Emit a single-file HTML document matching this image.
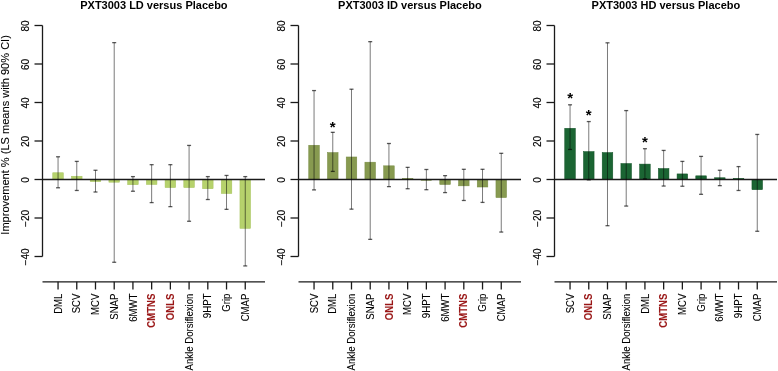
<!DOCTYPE html>
<html><head><meta charset="utf-8"><style>
html,body{margin:0;padding:0;background:#fff;}
svg{display:block;will-change:transform;}
text{font-family:"Liberation Sans", sans-serif;stroke-linejoin:round;}
</style></head><body>
<svg width="778" height="371" viewBox="0 0 778 371">
<rect width="778" height="371" fill="#fff"/>
<g><text x="153.90" y="8.7" text-anchor="middle" font-weight="bold" font-size="11">PXT3003 LD versus Placebo</text><rect x="52.75" y="172.76" width="10.60" height="6.74" fill="#b6d26c" stroke="#a6c25c" stroke-width="0.5"/><rect x="71.47" y="176.23" width="10.60" height="3.27" fill="#b6d26c" stroke="#a6c25c" stroke-width="0.5"/><rect x="90.19" y="179.50" width="10.60" height="2.12" fill="#b6d26c" stroke="#a6c25c" stroke-width="0.5"/><rect x="108.91" y="179.50" width="10.60" height="2.69" fill="#b6d26c" stroke="#a6c25c" stroke-width="0.5"/><rect x="127.63" y="179.50" width="10.60" height="5.20" fill="#b6d26c" stroke="#a6c25c" stroke-width="0.5"/><rect x="146.35" y="179.50" width="10.60" height="5.00" fill="#b6d26c" stroke="#a6c25c" stroke-width="0.5"/><rect x="165.07" y="179.50" width="10.60" height="8.09" fill="#b6d26c" stroke="#a6c25c" stroke-width="0.5"/><rect x="183.79" y="179.50" width="10.60" height="8.09" fill="#b6d26c" stroke="#a6c25c" stroke-width="0.5"/><rect x="202.51" y="179.50" width="10.60" height="9.24" fill="#b6d26c" stroke="#a6c25c" stroke-width="0.5"/><rect x="221.23" y="179.50" width="10.60" height="14.05" fill="#b6d26c" stroke="#a6c25c" stroke-width="0.5"/><rect x="239.95" y="179.50" width="10.60" height="48.89" fill="#b6d26c" stroke="#a6c25c" stroke-width="0.5"/><line x1="42.50" y1="179.5" x2="265.00" y2="179.5" stroke="#1a1a1a" stroke-width="1.3"/><line x1="58.05" y1="156.78" x2="58.05" y2="187.78" stroke="#000" stroke-opacity="0.62" stroke-width="0.85"/><line x1="56.05" y1="156.78" x2="60.05" y2="156.78" stroke="#000" stroke-opacity="0.65" stroke-width="1.3"/><line x1="56.05" y1="187.78" x2="60.05" y2="187.78" stroke="#000" stroke-opacity="0.65" stroke-width="1.3"/><line x1="76.77" y1="161.41" x2="76.77" y2="190.47" stroke="#000" stroke-opacity="0.62" stroke-width="0.85"/><line x1="74.77" y1="161.41" x2="78.77" y2="161.41" stroke="#000" stroke-opacity="0.65" stroke-width="1.3"/><line x1="74.77" y1="190.47" x2="78.77" y2="190.47" stroke="#000" stroke-opacity="0.65" stroke-width="1.3"/><line x1="95.49" y1="170.26" x2="95.49" y2="192.01" stroke="#000" stroke-opacity="0.62" stroke-width="0.85"/><line x1="93.49" y1="170.26" x2="97.49" y2="170.26" stroke="#000" stroke-opacity="0.65" stroke-width="1.3"/><line x1="93.49" y1="192.01" x2="97.49" y2="192.01" stroke="#000" stroke-opacity="0.65" stroke-width="1.3"/><line x1="114.21" y1="42.63" x2="114.21" y2="262.27" stroke="#000" stroke-opacity="0.62" stroke-width="0.85"/><line x1="112.21" y1="42.63" x2="116.21" y2="42.63" stroke="#000" stroke-opacity="0.65" stroke-width="1.3"/><line x1="112.21" y1="262.27" x2="116.21" y2="262.27" stroke="#000" stroke-opacity="0.65" stroke-width="1.3"/><line x1="132.93" y1="176.61" x2="132.93" y2="191.24" stroke="#000" stroke-opacity="0.62" stroke-width="0.85"/><line x1="130.93" y1="176.61" x2="134.93" y2="176.61" stroke="#000" stroke-opacity="0.65" stroke-width="1.3"/><line x1="130.93" y1="191.24" x2="134.93" y2="191.24" stroke="#000" stroke-opacity="0.65" stroke-width="1.3"/><line x1="151.65" y1="164.68" x2="151.65" y2="202.60" stroke="#000" stroke-opacity="0.62" stroke-width="0.85"/><line x1="149.65" y1="164.68" x2="153.65" y2="164.68" stroke="#000" stroke-opacity="0.65" stroke-width="1.3"/><line x1="149.65" y1="202.60" x2="153.65" y2="202.60" stroke="#000" stroke-opacity="0.65" stroke-width="1.3"/><line x1="170.37" y1="164.68" x2="170.37" y2="206.64" stroke="#000" stroke-opacity="0.62" stroke-width="0.85"/><line x1="168.37" y1="164.68" x2="172.37" y2="164.68" stroke="#000" stroke-opacity="0.65" stroke-width="1.3"/><line x1="168.37" y1="206.64" x2="172.37" y2="206.64" stroke="#000" stroke-opacity="0.65" stroke-width="1.3"/><line x1="189.09" y1="145.43" x2="189.09" y2="221.27" stroke="#000" stroke-opacity="0.62" stroke-width="0.85"/><line x1="187.09" y1="145.43" x2="191.09" y2="145.43" stroke="#000" stroke-opacity="0.65" stroke-width="1.3"/><line x1="187.09" y1="221.27" x2="191.09" y2="221.27" stroke="#000" stroke-opacity="0.65" stroke-width="1.3"/><line x1="207.81" y1="176.61" x2="207.81" y2="199.52" stroke="#000" stroke-opacity="0.62" stroke-width="0.85"/><line x1="205.81" y1="176.61" x2="209.81" y2="176.61" stroke="#000" stroke-opacity="0.65" stroke-width="1.3"/><line x1="205.81" y1="199.52" x2="209.81" y2="199.52" stroke="#000" stroke-opacity="0.65" stroke-width="1.3"/><line x1="226.53" y1="175.46" x2="226.53" y2="209.34" stroke="#000" stroke-opacity="0.62" stroke-width="0.85"/><line x1="224.53" y1="175.46" x2="228.53" y2="175.46" stroke="#000" stroke-opacity="0.65" stroke-width="1.3"/><line x1="224.53" y1="209.34" x2="228.53" y2="209.34" stroke="#000" stroke-opacity="0.65" stroke-width="1.3"/><line x1="245.25" y1="176.61" x2="245.25" y2="265.93" stroke="#000" stroke-opacity="0.62" stroke-width="0.85"/><line x1="243.25" y1="176.61" x2="247.25" y2="176.61" stroke="#000" stroke-opacity="0.65" stroke-width="1.3"/><line x1="243.25" y1="265.93" x2="247.25" y2="265.93" stroke="#000" stroke-opacity="0.65" stroke-width="1.3"/><line x1="42.5" y1="25.5" x2="42.5" y2="256.5" stroke="#1a1a1a" stroke-width="1.3"/><line x1="34.5" y1="25.5" x2="42.5" y2="25.5" stroke="#1a1a1a" stroke-width="1.3"/><text transform="translate(28.80,25.90) rotate(-90)" text-anchor="middle" font-size="10" stroke="#000" stroke-width="0.15">80</text><line x1="34.5" y1="64.0" x2="42.5" y2="64.0" stroke="#1a1a1a" stroke-width="1.3"/><text transform="translate(28.80,64.40) rotate(-90)" text-anchor="middle" font-size="10" stroke="#000" stroke-width="0.15">60</text><line x1="34.5" y1="102.5" x2="42.5" y2="102.5" stroke="#1a1a1a" stroke-width="1.3"/><text transform="translate(28.80,102.90) rotate(-90)" text-anchor="middle" font-size="10" stroke="#000" stroke-width="0.15">40</text><line x1="34.5" y1="141.0" x2="42.5" y2="141.0" stroke="#1a1a1a" stroke-width="1.3"/><text transform="translate(28.80,141.40) rotate(-90)" text-anchor="middle" font-size="10" stroke="#000" stroke-width="0.15">20</text><line x1="34.5" y1="179.5" x2="42.5" y2="179.5" stroke="#1a1a1a" stroke-width="1.3"/><text transform="translate(28.80,179.90) rotate(-90)" text-anchor="middle" font-size="10" stroke="#000" stroke-width="0.15">0</text><line x1="34.5" y1="218.0" x2="42.5" y2="218.0" stroke="#1a1a1a" stroke-width="1.3"/><text transform="translate(28.80,218.40) rotate(-90)" text-anchor="middle" font-size="10" stroke="#000" stroke-width="0.15">−20</text><line x1="34.5" y1="256.5" x2="42.5" y2="256.5" stroke="#1a1a1a" stroke-width="1.3"/><text transform="translate(28.80,256.90) rotate(-90)" text-anchor="middle" font-size="10" stroke="#000" stroke-width="0.15">−40</text><line x1="42.5" y1="281.8" x2="265" y2="281.8" stroke="#1a1a1a" stroke-width="1.3"/><line x1="58.05" y1="281.8" x2="58.05" y2="289.5" stroke="#1a1a1a" stroke-width="1.3"/><text transform="translate(61.65,293.6) rotate(-90) scale(1,1.12)" text-anchor="end" font-size="9.6" stroke="#000" stroke-width="0.08">DML</text><line x1="76.77" y1="281.8" x2="76.77" y2="289.5" stroke="#1a1a1a" stroke-width="1.3"/><text transform="translate(80.37,293.6) rotate(-90) scale(1,1.12)" text-anchor="end" font-size="9.6" stroke="#000" stroke-width="0.08">SCV</text><line x1="95.49" y1="281.8" x2="95.49" y2="289.5" stroke="#1a1a1a" stroke-width="1.3"/><text transform="translate(99.09,293.6) rotate(-90) scale(1,1.12)" text-anchor="end" font-size="9.6" stroke="#000" stroke-width="0.08">MCV</text><line x1="114.21" y1="281.8" x2="114.21" y2="289.5" stroke="#1a1a1a" stroke-width="1.3"/><text transform="translate(117.81,293.6) rotate(-90) scale(1,1.12)" text-anchor="end" font-size="9.6" stroke="#000" stroke-width="0.08">SNAP</text><line x1="132.93" y1="281.8" x2="132.93" y2="289.5" stroke="#1a1a1a" stroke-width="1.3"/><text transform="translate(136.53,293.6) rotate(-90) scale(1,1.12)" text-anchor="end" font-size="9.6" stroke="#000" stroke-width="0.08">6MWT</text><line x1="151.65" y1="281.8" x2="151.65" y2="289.5" stroke="#1a1a1a" stroke-width="1.3"/><text transform="translate(155.25,293.6) rotate(-90) scale(1,1.12)" text-anchor="end" font-size="9.6" font-weight="bold" fill="#9a1717" stroke="#9a1717" stroke-width="0.08">CMTNS</text><line x1="170.37" y1="281.8" x2="170.37" y2="289.5" stroke="#1a1a1a" stroke-width="1.3"/><text transform="translate(173.97,293.6) rotate(-90) scale(1,1.12)" text-anchor="end" font-size="9.6" font-weight="bold" fill="#9a1717" stroke="#9a1717" stroke-width="0.08">ONLS</text><line x1="189.09" y1="281.8" x2="189.09" y2="289.5" stroke="#1a1a1a" stroke-width="1.3"/><text transform="translate(192.69,293.6) rotate(-90) scale(1,1.12)" text-anchor="end" font-size="9.6" stroke="#000" stroke-width="0.08">Ankle Dorsiflexion</text><line x1="207.81" y1="281.8" x2="207.81" y2="289.5" stroke="#1a1a1a" stroke-width="1.3"/><text transform="translate(211.41,293.6) rotate(-90) scale(1,1.12)" text-anchor="end" font-size="9.6" stroke="#000" stroke-width="0.08">9HPT</text><line x1="226.53" y1="281.8" x2="226.53" y2="289.5" stroke="#1a1a1a" stroke-width="1.3"/><text transform="translate(230.13,293.6) rotate(-90) scale(1,1.12)" text-anchor="end" font-size="9.6" stroke="#000" stroke-width="0.08">Grip</text><line x1="245.25" y1="281.8" x2="245.25" y2="289.5" stroke="#1a1a1a" stroke-width="1.3"/><text transform="translate(248.85,293.6) rotate(-90) scale(1,1.12)" text-anchor="end" font-size="9.6" stroke="#000" stroke-width="0.08">CMAP</text></g><g><text x="409.90" y="8.7" text-anchor="middle" font-weight="bold" font-size="11">PXT3003 ID versus Placebo</text><rect x="308.75" y="145.24" width="10.60" height="34.26" fill="#879a50" stroke="#768a40" stroke-width="0.5"/><rect x="327.47" y="152.55" width="10.60" height="26.95" fill="#879a50" stroke="#768a40" stroke-width="0.5"/><rect x="346.19" y="156.98" width="10.60" height="22.52" fill="#879a50" stroke="#768a40" stroke-width="0.5"/><rect x="364.91" y="162.18" width="10.60" height="17.32" fill="#879a50" stroke="#768a40" stroke-width="0.5"/><rect x="383.63" y="165.83" width="10.60" height="13.67" fill="#879a50" stroke="#768a40" stroke-width="0.5"/><rect x="402.35" y="178.34" width="10.60" height="1.16" fill="#879a50" stroke="#768a40" stroke-width="0.5"/><rect x="421.07" y="179.50" width="10.60" height="0.77" fill="#879a50" stroke="#768a40" stroke-width="0.5"/><rect x="439.79" y="179.50" width="10.60" height="5.00" fill="#879a50" stroke="#768a40" stroke-width="0.5"/><rect x="458.51" y="179.50" width="10.60" height="6.35" fill="#879a50" stroke="#768a40" stroke-width="0.5"/><rect x="477.23" y="179.50" width="10.60" height="7.51" fill="#879a50" stroke="#768a40" stroke-width="0.5"/><rect x="495.95" y="179.50" width="10.60" height="18.09" fill="#879a50" stroke="#768a40" stroke-width="0.5"/><line x1="298.50" y1="179.5" x2="521.00" y2="179.5" stroke="#1a1a1a" stroke-width="1.3"/><line x1="314.05" y1="90.56" x2="314.05" y2="189.90" stroke="#000" stroke-opacity="0.62" stroke-width="0.85"/><line x1="312.05" y1="90.56" x2="316.05" y2="90.56" stroke="#000" stroke-opacity="0.65" stroke-width="1.3"/><line x1="312.05" y1="189.90" x2="316.05" y2="189.90" stroke="#000" stroke-opacity="0.65" stroke-width="1.3"/><line x1="332.77" y1="132.34" x2="332.77" y2="171.41" stroke="#000" stroke-opacity="0.62" stroke-width="0.85"/><line x1="330.77" y1="132.34" x2="334.77" y2="132.34" stroke="#000" stroke-opacity="0.65" stroke-width="1.3"/><line x1="330.77" y1="171.41" x2="334.77" y2="171.41" stroke="#000" stroke-opacity="0.65" stroke-width="1.3"/><line x1="351.49" y1="89.22" x2="351.49" y2="209.15" stroke="#000" stroke-opacity="0.62" stroke-width="0.85"/><line x1="349.49" y1="89.22" x2="353.49" y2="89.22" stroke="#000" stroke-opacity="0.65" stroke-width="1.3"/><line x1="349.49" y1="209.15" x2="353.49" y2="209.15" stroke="#000" stroke-opacity="0.65" stroke-width="1.3"/><line x1="370.21" y1="41.67" x2="370.21" y2="239.37" stroke="#000" stroke-opacity="0.62" stroke-width="0.85"/><line x1="368.21" y1="41.67" x2="372.21" y2="41.67" stroke="#000" stroke-opacity="0.65" stroke-width="1.3"/><line x1="368.21" y1="239.37" x2="372.21" y2="239.37" stroke="#000" stroke-opacity="0.65" stroke-width="1.3"/><line x1="388.93" y1="143.50" x2="388.93" y2="186.62" stroke="#000" stroke-opacity="0.62" stroke-width="0.85"/><line x1="386.93" y1="143.50" x2="390.93" y2="143.50" stroke="#000" stroke-opacity="0.65" stroke-width="1.3"/><line x1="386.93" y1="186.62" x2="390.93" y2="186.62" stroke="#000" stroke-opacity="0.65" stroke-width="1.3"/><line x1="407.65" y1="167.37" x2="407.65" y2="188.74" stroke="#000" stroke-opacity="0.62" stroke-width="0.85"/><line x1="405.65" y1="167.37" x2="409.65" y2="167.37" stroke="#000" stroke-opacity="0.65" stroke-width="1.3"/><line x1="405.65" y1="188.74" x2="409.65" y2="188.74" stroke="#000" stroke-opacity="0.65" stroke-width="1.3"/><line x1="426.37" y1="169.49" x2="426.37" y2="189.70" stroke="#000" stroke-opacity="0.62" stroke-width="0.85"/><line x1="424.37" y1="169.49" x2="428.37" y2="169.49" stroke="#000" stroke-opacity="0.65" stroke-width="1.3"/><line x1="424.37" y1="189.70" x2="428.37" y2="189.70" stroke="#000" stroke-opacity="0.65" stroke-width="1.3"/><line x1="445.09" y1="175.65" x2="445.09" y2="192.59" stroke="#000" stroke-opacity="0.62" stroke-width="0.85"/><line x1="443.09" y1="175.65" x2="447.09" y2="175.65" stroke="#000" stroke-opacity="0.65" stroke-width="1.3"/><line x1="443.09" y1="192.59" x2="447.09" y2="192.59" stroke="#000" stroke-opacity="0.65" stroke-width="1.3"/><line x1="463.81" y1="169.30" x2="463.81" y2="200.48" stroke="#000" stroke-opacity="0.62" stroke-width="0.85"/><line x1="461.81" y1="169.30" x2="465.81" y2="169.30" stroke="#000" stroke-opacity="0.65" stroke-width="1.3"/><line x1="461.81" y1="200.48" x2="465.81" y2="200.48" stroke="#000" stroke-opacity="0.65" stroke-width="1.3"/><line x1="482.53" y1="169.30" x2="482.53" y2="202.41" stroke="#000" stroke-opacity="0.62" stroke-width="0.85"/><line x1="480.53" y1="169.30" x2="484.53" y2="169.30" stroke="#000" stroke-opacity="0.65" stroke-width="1.3"/><line x1="480.53" y1="202.41" x2="484.53" y2="202.41" stroke="#000" stroke-opacity="0.65" stroke-width="1.3"/><line x1="501.25" y1="153.32" x2="501.25" y2="232.05" stroke="#000" stroke-opacity="0.62" stroke-width="0.85"/><line x1="499.25" y1="153.32" x2="503.25" y2="153.32" stroke="#000" stroke-opacity="0.65" stroke-width="1.3"/><line x1="499.25" y1="232.05" x2="503.25" y2="232.05" stroke="#000" stroke-opacity="0.65" stroke-width="1.3"/><text x="332.77" y="132.34" text-anchor="middle" font-weight="bold" font-size="15">*</text><line x1="298.5" y1="25.5" x2="298.5" y2="256.5" stroke="#1a1a1a" stroke-width="1.3"/><line x1="290.5" y1="25.5" x2="298.5" y2="25.5" stroke="#1a1a1a" stroke-width="1.3"/><text transform="translate(284.80,25.90) rotate(-90)" text-anchor="middle" font-size="10" stroke="#000" stroke-width="0.15">80</text><line x1="290.5" y1="64.0" x2="298.5" y2="64.0" stroke="#1a1a1a" stroke-width="1.3"/><text transform="translate(284.80,64.40) rotate(-90)" text-anchor="middle" font-size="10" stroke="#000" stroke-width="0.15">60</text><line x1="290.5" y1="102.5" x2="298.5" y2="102.5" stroke="#1a1a1a" stroke-width="1.3"/><text transform="translate(284.80,102.90) rotate(-90)" text-anchor="middle" font-size="10" stroke="#000" stroke-width="0.15">40</text><line x1="290.5" y1="141.0" x2="298.5" y2="141.0" stroke="#1a1a1a" stroke-width="1.3"/><text transform="translate(284.80,141.40) rotate(-90)" text-anchor="middle" font-size="10" stroke="#000" stroke-width="0.15">20</text><line x1="290.5" y1="179.5" x2="298.5" y2="179.5" stroke="#1a1a1a" stroke-width="1.3"/><text transform="translate(284.80,179.90) rotate(-90)" text-anchor="middle" font-size="10" stroke="#000" stroke-width="0.15">0</text><line x1="290.5" y1="218.0" x2="298.5" y2="218.0" stroke="#1a1a1a" stroke-width="1.3"/><text transform="translate(284.80,218.40) rotate(-90)" text-anchor="middle" font-size="10" stroke="#000" stroke-width="0.15">−20</text><line x1="290.5" y1="256.5" x2="298.5" y2="256.5" stroke="#1a1a1a" stroke-width="1.3"/><text transform="translate(284.80,256.90) rotate(-90)" text-anchor="middle" font-size="10" stroke="#000" stroke-width="0.15">−40</text><line x1="298.5" y1="281.8" x2="521" y2="281.8" stroke="#1a1a1a" stroke-width="1.3"/><line x1="314.05" y1="281.8" x2="314.05" y2="289.5" stroke="#1a1a1a" stroke-width="1.3"/><text transform="translate(317.65,293.6) rotate(-90) scale(1,1.12)" text-anchor="end" font-size="9.6" stroke="#000" stroke-width="0.08">SCV</text><line x1="332.77" y1="281.8" x2="332.77" y2="289.5" stroke="#1a1a1a" stroke-width="1.3"/><text transform="translate(336.37,293.6) rotate(-90) scale(1,1.12)" text-anchor="end" font-size="9.6" stroke="#000" stroke-width="0.08">DML</text><line x1="351.49" y1="281.8" x2="351.49" y2="289.5" stroke="#1a1a1a" stroke-width="1.3"/><text transform="translate(355.09,293.6) rotate(-90) scale(1,1.12)" text-anchor="end" font-size="9.6" stroke="#000" stroke-width="0.08">Ankle Dorsiflexion</text><line x1="370.21" y1="281.8" x2="370.21" y2="289.5" stroke="#1a1a1a" stroke-width="1.3"/><text transform="translate(373.81,293.6) rotate(-90) scale(1,1.12)" text-anchor="end" font-size="9.6" stroke="#000" stroke-width="0.08">SNAP</text><line x1="388.93" y1="281.8" x2="388.93" y2="289.5" stroke="#1a1a1a" stroke-width="1.3"/><text transform="translate(392.53,293.6) rotate(-90) scale(1,1.12)" text-anchor="end" font-size="9.6" font-weight="bold" fill="#9a1717" stroke="#9a1717" stroke-width="0.08">ONLS</text><line x1="407.65" y1="281.8" x2="407.65" y2="289.5" stroke="#1a1a1a" stroke-width="1.3"/><text transform="translate(411.25,293.6) rotate(-90) scale(1,1.12)" text-anchor="end" font-size="9.6" stroke="#000" stroke-width="0.08">MCV</text><line x1="426.37" y1="281.8" x2="426.37" y2="289.5" stroke="#1a1a1a" stroke-width="1.3"/><text transform="translate(429.97,293.6) rotate(-90) scale(1,1.12)" text-anchor="end" font-size="9.6" stroke="#000" stroke-width="0.08">9HPT</text><line x1="445.09" y1="281.8" x2="445.09" y2="289.5" stroke="#1a1a1a" stroke-width="1.3"/><text transform="translate(448.69,293.6) rotate(-90) scale(1,1.12)" text-anchor="end" font-size="9.6" stroke="#000" stroke-width="0.08">6MWT</text><line x1="463.81" y1="281.8" x2="463.81" y2="289.5" stroke="#1a1a1a" stroke-width="1.3"/><text transform="translate(467.41,293.6) rotate(-90) scale(1,1.12)" text-anchor="end" font-size="9.6" font-weight="bold" fill="#9a1717" stroke="#9a1717" stroke-width="0.08">CMTNS</text><line x1="482.53" y1="281.8" x2="482.53" y2="289.5" stroke="#1a1a1a" stroke-width="1.3"/><text transform="translate(486.13,293.6) rotate(-90) scale(1,1.12)" text-anchor="end" font-size="9.6" stroke="#000" stroke-width="0.08">Grip</text><line x1="501.25" y1="281.8" x2="501.25" y2="289.5" stroke="#1a1a1a" stroke-width="1.3"/><text transform="translate(504.85,293.6) rotate(-90) scale(1,1.12)" text-anchor="end" font-size="9.6" stroke="#000" stroke-width="0.08">CMAP</text></g><g><text x="665.90" y="8.7" text-anchor="middle" font-weight="bold" font-size="11">PXT3003 HD versus Placebo</text><rect x="564.75" y="128.29" width="10.60" height="51.21" fill="#1b6533" stroke="#0f5024" stroke-width="0.5"/><rect x="583.47" y="151.59" width="10.60" height="27.91" fill="#1b6533" stroke="#0f5024" stroke-width="0.5"/><rect x="602.19" y="152.55" width="10.60" height="26.95" fill="#1b6533" stroke="#0f5024" stroke-width="0.5"/><rect x="620.91" y="163.52" width="10.60" height="15.98" fill="#1b6533" stroke="#0f5024" stroke-width="0.5"/><rect x="639.63" y="164.10" width="10.60" height="15.40" fill="#1b6533" stroke="#0f5024" stroke-width="0.5"/><rect x="658.35" y="168.53" width="10.60" height="10.97" fill="#1b6533" stroke="#0f5024" stroke-width="0.5"/><rect x="677.07" y="173.92" width="10.60" height="5.58" fill="#1b6533" stroke="#0f5024" stroke-width="0.5"/><rect x="695.79" y="175.84" width="10.60" height="3.66" fill="#1b6533" stroke="#0f5024" stroke-width="0.5"/><rect x="714.51" y="177.77" width="10.60" height="1.73" fill="#1b6533" stroke="#0f5024" stroke-width="0.5"/><rect x="733.23" y="178.34" width="10.60" height="1.16" fill="#1b6533" stroke="#0f5024" stroke-width="0.5"/><rect x="751.95" y="179.50" width="10.60" height="10.20" fill="#1b6533" stroke="#0f5024" stroke-width="0.5"/><line x1="554.50" y1="179.5" x2="777.00" y2="179.5" stroke="#1a1a1a" stroke-width="1.3"/><line x1="570.05" y1="104.81" x2="570.05" y2="149.47" stroke="#000" stroke-opacity="0.62" stroke-width="0.85"/><line x1="568.05" y1="104.81" x2="572.05" y2="104.81" stroke="#000" stroke-opacity="0.65" stroke-width="1.3"/><line x1="568.05" y1="149.47" x2="572.05" y2="149.47" stroke="#000" stroke-opacity="0.65" stroke-width="1.3"/><line x1="588.77" y1="121.56" x2="588.77" y2="179.88" stroke="#000" stroke-opacity="0.62" stroke-width="0.85"/><line x1="586.77" y1="121.56" x2="590.77" y2="121.56" stroke="#000" stroke-opacity="0.65" stroke-width="1.3"/><line x1="586.77" y1="179.88" x2="590.77" y2="179.88" stroke="#000" stroke-opacity="0.65" stroke-width="1.3"/><line x1="607.49" y1="42.82" x2="607.49" y2="225.70" stroke="#000" stroke-opacity="0.62" stroke-width="0.85"/><line x1="605.49" y1="42.82" x2="609.49" y2="42.82" stroke="#000" stroke-opacity="0.65" stroke-width="1.3"/><line x1="605.49" y1="225.70" x2="609.49" y2="225.70" stroke="#000" stroke-opacity="0.65" stroke-width="1.3"/><line x1="626.21" y1="110.59" x2="626.21" y2="206.06" stroke="#000" stroke-opacity="0.62" stroke-width="0.85"/><line x1="624.21" y1="110.59" x2="628.21" y2="110.59" stroke="#000" stroke-opacity="0.65" stroke-width="1.3"/><line x1="624.21" y1="206.06" x2="628.21" y2="206.06" stroke="#000" stroke-opacity="0.65" stroke-width="1.3"/><line x1="644.93" y1="148.70" x2="644.93" y2="178.92" stroke="#000" stroke-opacity="0.62" stroke-width="0.85"/><line x1="642.93" y1="148.70" x2="646.93" y2="148.70" stroke="#000" stroke-opacity="0.65" stroke-width="1.3"/><line x1="642.93" y1="178.92" x2="646.93" y2="178.92" stroke="#000" stroke-opacity="0.65" stroke-width="1.3"/><line x1="663.65" y1="150.43" x2="663.65" y2="186.04" stroke="#000" stroke-opacity="0.62" stroke-width="0.85"/><line x1="661.65" y1="150.43" x2="665.65" y2="150.43" stroke="#000" stroke-opacity="0.65" stroke-width="1.3"/><line x1="661.65" y1="186.04" x2="665.65" y2="186.04" stroke="#000" stroke-opacity="0.65" stroke-width="1.3"/><line x1="682.37" y1="161.41" x2="682.37" y2="186.24" stroke="#000" stroke-opacity="0.62" stroke-width="0.85"/><line x1="680.37" y1="161.41" x2="684.37" y2="161.41" stroke="#000" stroke-opacity="0.65" stroke-width="1.3"/><line x1="680.37" y1="186.24" x2="684.37" y2="186.24" stroke="#000" stroke-opacity="0.65" stroke-width="1.3"/><line x1="701.09" y1="156.40" x2="701.09" y2="194.32" stroke="#000" stroke-opacity="0.62" stroke-width="0.85"/><line x1="699.09" y1="156.40" x2="703.09" y2="156.40" stroke="#000" stroke-opacity="0.65" stroke-width="1.3"/><line x1="699.09" y1="194.32" x2="703.09" y2="194.32" stroke="#000" stroke-opacity="0.65" stroke-width="1.3"/><line x1="719.81" y1="170.26" x2="719.81" y2="185.66" stroke="#000" stroke-opacity="0.62" stroke-width="0.85"/><line x1="717.81" y1="170.26" x2="721.81" y2="170.26" stroke="#000" stroke-opacity="0.65" stroke-width="1.3"/><line x1="717.81" y1="185.66" x2="721.81" y2="185.66" stroke="#000" stroke-opacity="0.65" stroke-width="1.3"/><line x1="738.53" y1="166.60" x2="738.53" y2="190.47" stroke="#000" stroke-opacity="0.62" stroke-width="0.85"/><line x1="736.53" y1="166.60" x2="740.53" y2="166.60" stroke="#000" stroke-opacity="0.65" stroke-width="1.3"/><line x1="736.53" y1="190.47" x2="740.53" y2="190.47" stroke="#000" stroke-opacity="0.65" stroke-width="1.3"/><line x1="757.25" y1="134.45" x2="757.25" y2="231.28" stroke="#000" stroke-opacity="0.62" stroke-width="0.85"/><line x1="755.25" y1="134.45" x2="759.25" y2="134.45" stroke="#000" stroke-opacity="0.65" stroke-width="1.3"/><line x1="755.25" y1="231.28" x2="759.25" y2="231.28" stroke="#000" stroke-opacity="0.65" stroke-width="1.3"/><text x="570.05" y="103.31" text-anchor="middle" font-weight="bold" font-size="15">*</text><text x="588.77" y="120.06" text-anchor="middle" font-weight="bold" font-size="15">*</text><text x="644.93" y="147.20" text-anchor="middle" font-weight="bold" font-size="15">*</text><line x1="554.5" y1="25.5" x2="554.5" y2="256.5" stroke="#1a1a1a" stroke-width="1.3"/><line x1="546.5" y1="25.5" x2="554.5" y2="25.5" stroke="#1a1a1a" stroke-width="1.3"/><text transform="translate(540.80,25.90) rotate(-90)" text-anchor="middle" font-size="10" stroke="#000" stroke-width="0.15">80</text><line x1="546.5" y1="64.0" x2="554.5" y2="64.0" stroke="#1a1a1a" stroke-width="1.3"/><text transform="translate(540.80,64.40) rotate(-90)" text-anchor="middle" font-size="10" stroke="#000" stroke-width="0.15">60</text><line x1="546.5" y1="102.5" x2="554.5" y2="102.5" stroke="#1a1a1a" stroke-width="1.3"/><text transform="translate(540.80,102.90) rotate(-90)" text-anchor="middle" font-size="10" stroke="#000" stroke-width="0.15">40</text><line x1="546.5" y1="141.0" x2="554.5" y2="141.0" stroke="#1a1a1a" stroke-width="1.3"/><text transform="translate(540.80,141.40) rotate(-90)" text-anchor="middle" font-size="10" stroke="#000" stroke-width="0.15">20</text><line x1="546.5" y1="179.5" x2="554.5" y2="179.5" stroke="#1a1a1a" stroke-width="1.3"/><text transform="translate(540.80,179.90) rotate(-90)" text-anchor="middle" font-size="10" stroke="#000" stroke-width="0.15">0</text><line x1="546.5" y1="218.0" x2="554.5" y2="218.0" stroke="#1a1a1a" stroke-width="1.3"/><text transform="translate(540.80,218.40) rotate(-90)" text-anchor="middle" font-size="10" stroke="#000" stroke-width="0.15">−20</text><line x1="546.5" y1="256.5" x2="554.5" y2="256.5" stroke="#1a1a1a" stroke-width="1.3"/><text transform="translate(540.80,256.90) rotate(-90)" text-anchor="middle" font-size="10" stroke="#000" stroke-width="0.15">−40</text><line x1="554.5" y1="281.8" x2="777" y2="281.8" stroke="#1a1a1a" stroke-width="1.3"/><line x1="570.05" y1="281.8" x2="570.05" y2="289.5" stroke="#1a1a1a" stroke-width="1.3"/><text transform="translate(573.65,293.6) rotate(-90) scale(1,1.12)" text-anchor="end" font-size="9.6" stroke="#000" stroke-width="0.08">SCV</text><line x1="588.77" y1="281.8" x2="588.77" y2="289.5" stroke="#1a1a1a" stroke-width="1.3"/><text transform="translate(592.37,293.6) rotate(-90) scale(1,1.12)" text-anchor="end" font-size="9.6" font-weight="bold" fill="#9a1717" stroke="#9a1717" stroke-width="0.08">ONLS</text><line x1="607.49" y1="281.8" x2="607.49" y2="289.5" stroke="#1a1a1a" stroke-width="1.3"/><text transform="translate(611.09,293.6) rotate(-90) scale(1,1.12)" text-anchor="end" font-size="9.6" stroke="#000" stroke-width="0.08">SNAP</text><line x1="626.21" y1="281.8" x2="626.21" y2="289.5" stroke="#1a1a1a" stroke-width="1.3"/><text transform="translate(629.81,293.6) rotate(-90) scale(1,1.12)" text-anchor="end" font-size="9.6" stroke="#000" stroke-width="0.08">Ankle Dorsiflexion</text><line x1="644.93" y1="281.8" x2="644.93" y2="289.5" stroke="#1a1a1a" stroke-width="1.3"/><text transform="translate(648.53,293.6) rotate(-90) scale(1,1.12)" text-anchor="end" font-size="9.6" stroke="#000" stroke-width="0.08">DML</text><line x1="663.65" y1="281.8" x2="663.65" y2="289.5" stroke="#1a1a1a" stroke-width="1.3"/><text transform="translate(667.25,293.6) rotate(-90) scale(1,1.12)" text-anchor="end" font-size="9.6" font-weight="bold" fill="#9a1717" stroke="#9a1717" stroke-width="0.08">CMTNS</text><line x1="682.37" y1="281.8" x2="682.37" y2="289.5" stroke="#1a1a1a" stroke-width="1.3"/><text transform="translate(685.97,293.6) rotate(-90) scale(1,1.12)" text-anchor="end" font-size="9.6" stroke="#000" stroke-width="0.08">MCV</text><line x1="701.09" y1="281.8" x2="701.09" y2="289.5" stroke="#1a1a1a" stroke-width="1.3"/><text transform="translate(704.69,293.6) rotate(-90) scale(1,1.12)" text-anchor="end" font-size="9.6" stroke="#000" stroke-width="0.08">Grip</text><line x1="719.81" y1="281.8" x2="719.81" y2="289.5" stroke="#1a1a1a" stroke-width="1.3"/><text transform="translate(723.41,293.6) rotate(-90) scale(1,1.12)" text-anchor="end" font-size="9.6" stroke="#000" stroke-width="0.08">6MWT</text><line x1="738.53" y1="281.8" x2="738.53" y2="289.5" stroke="#1a1a1a" stroke-width="1.3"/><text transform="translate(742.13,293.6) rotate(-90) scale(1,1.12)" text-anchor="end" font-size="9.6" stroke="#000" stroke-width="0.08">9HPT</text><line x1="757.25" y1="281.8" x2="757.25" y2="289.5" stroke="#1a1a1a" stroke-width="1.3"/><text transform="translate(760.85,293.6) rotate(-90) scale(1,1.12)" text-anchor="end" font-size="9.6" stroke="#000" stroke-width="0.08">CMAP</text></g><text transform="translate(8.8,134.9) rotate(-90)" text-anchor="middle" font-size="11.05" stroke="#000" stroke-width="0.1">Improvement % (LS means with 90% CI)</text>
</svg></body></html>
